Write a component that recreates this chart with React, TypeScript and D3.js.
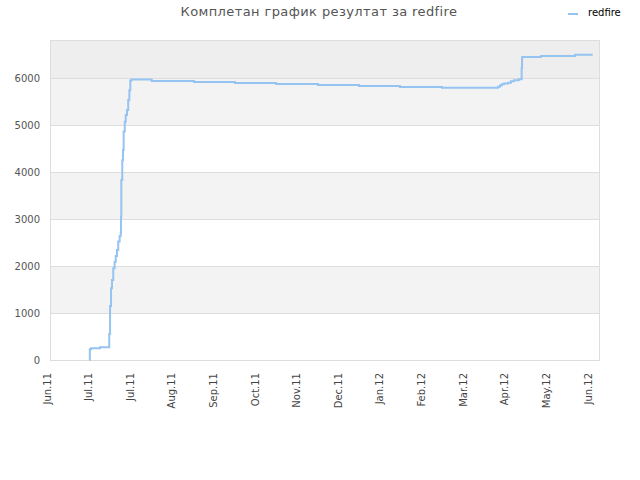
import React from "react";
import * as d3 from "d3";

const tickLabels = ["Jun.11", "Jul.11", "Jul.11", "Aug.11", "Sep.11", "Oct.11", "Nov.11", "Dec.11", "Jan.12", "Feb.12", "Mar.12", "Apr.12", "May.12", "Jun.12"];
const yTicks = [0, 1000, 2000, 3000, 4000, 5000, 6000];

// day offsets (30 days per tick) and scores
const days = [28.6, 28.7, 29.6, 36, 42.7, 43.3, 44, 44.7, 45.6, 46.6, 47.4, 48.3, 49.2, 50.2, 51, 51.2, 51.4, 52.1, 52.6, 53.1, 53.9, 54.6, 55.5, 56.4, 57.2, 57.9, 58.6, 73.3, 103.8, 133.4, 163, 193.2, 222.8, 252.3, 282.6, 323, 324.4, 325.8, 327.3, 330.2, 332.3, 334.5, 337.9, 340, 340.3, 340.8, 353.9, 378.5, 391.2];
const scores = [0, 228, 248, 270, 553, 1150, 1525, 1700, 1950, 2090, 2210, 2340, 2520, 2640, 2700, 3050, 3830, 4250, 4470, 4860, 5070, 5210, 5320, 5530, 5740, 5940, 5965, 5936, 5915, 5894, 5872, 5851, 5830, 5809, 5790, 5815, 5844, 5866, 5880, 5900, 5929, 5950, 5972, 6206, 6440, 6447, 6468, 6496, 6496];

const seriesName = "redfire";
const title = "Комплетан график резултат за redfire";

export default function App() {
  const W = 640, H = 480;
  const left = 50, right = 600, top = 40, bottom = 360;
  const x = d3.scaleLinear().domain([0, 390]).range([50, 591]);
  const y = d3.scaleLinear().domain([0, 6808]).range([bottom, top]);
  const pts = days.map((d, i) => [d, scores[i]] as [number, number]);
  const line = d3.line<[number, number]>().x(d => x(d[0])).y(d => y(d[1])).curve(d3.curveStepAfter);
  const bands = [
    { a: 1000, b: 2000, c: "#f3f3f3" },
    { a: 3000, b: 4000, c: "#f3f3f3" },
    { a: 5000, b: 6000, c: "#f3f3f3" },
    { a: 6000, b: 6808, c: "#eeeeee" },
  ];
  const font = "DejaVu Sans, sans-serif";
  return (
    <svg width={W} height={H} style={{ position: "absolute", left: 0, top: 0, background: "#fff" }}>
      <text x={319} y={16} textAnchor="middle" fontFamily={font} fontSize={13} letterSpacing={0.4} fill="#555">{title}</text>
      <line x1={568} x2={578} y1={14} y2={14} stroke="#95c3f2" strokeWidth={2} />
      <text x={588} y={16} fontFamily={font} fontSize={10} fill="#000">{seriesName}</text>
      <rect x={left} y={top} width={right - left} height={bottom - top} fill="#fff" />
      {bands.map((b, i) => (
        <rect key={i} x={left} y={y(b.b)} width={right - left} height={y(b.a) - y(b.b)} fill={b.c} />
      ))}
      {yTicks.slice(1).map(t => (
        <line key={t} x1={left} x2={right} y1={Math.round(y(t)) + 0.5} y2={Math.round(y(t)) + 0.5} stroke="#dddddd" />
      ))}
      <rect x={left + 0.5} y={top + 0.5} width={right - left - 1} height={bottom - top} fill="none" stroke="#dddddd" />
      {yTicks.map(t => (
        <text key={t} x={40} y={y(t) + 4} textAnchor="end" fontFamily={font} fontSize={10} fill="#555">{t}</text>
      ))}
      {tickLabels.map((l, i) => {
        const tx = x(i * 30) + 0.5;
        return (
          <text key={i} transform={`translate(${tx},373) rotate(-90)`} textAnchor="end" fontFamily={font} fontSize={10} fill="#444">{l}</text>
        );
      })}
      <path d={line(pts) || ""} fill="none" stroke="#95c3f2" strokeWidth={2} />
    </svg>
  );
}
